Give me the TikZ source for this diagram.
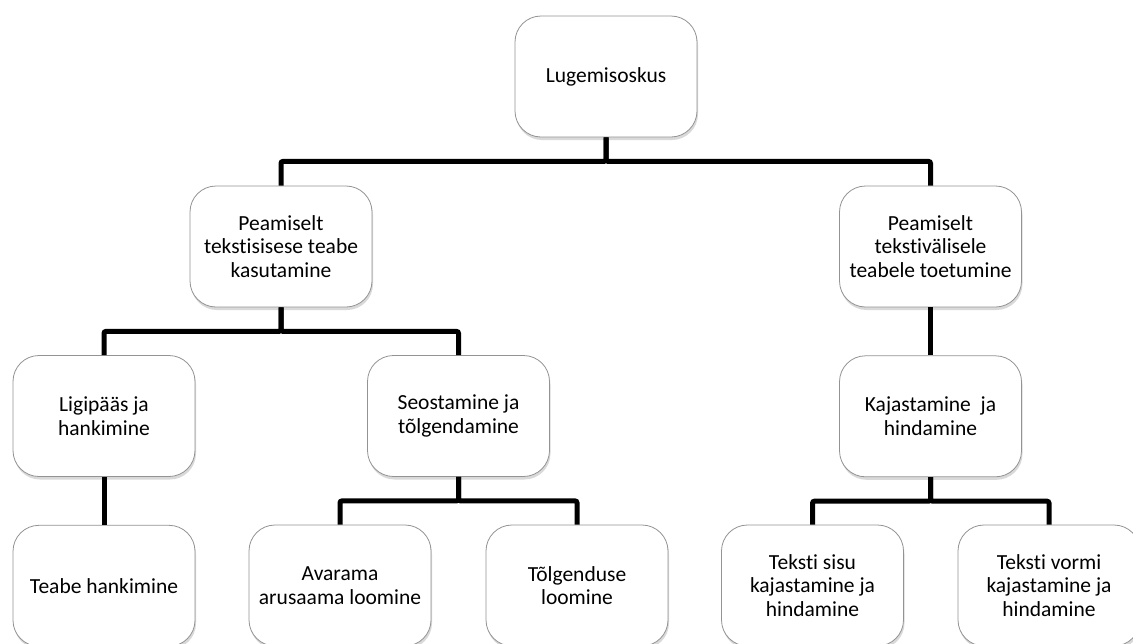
\documentclass[tikz,border=0pt]{standalone}
\usepackage{fontspec}
\setmainfont{Carlito}[Ligatures=NoCommon]
\usepackage{tikz}
\usetikzlibrary{positioning, shadows}

\tikzset{
  box/.style={rectangle, rounded corners=26pt, draw=gray!85, line width=0.8pt, fill=white,
    minimum width=182pt, minimum height=121pt, align=center,
    font=\fontsize{21.5}{23.5}\selectfont,
    drop shadow={shadow xshift=1pt, shadow yshift=-3pt, opacity=0.3, fill=gray}},
  link/.style={line width=5pt, rounded corners=2pt}
}

\begin{document}
\begin{tikzpicture}[x=1pt, y=1pt]

        \useasboundingbox (0,0) rectangle (1133,-643);

        \node[box] (root) at (606,-76.5) {Lugemisoskus};
        \node[box] (sisene) at (281,-246.5) {Peamiselt\\tekstisisese teabe\\kasutamine};
        \node[box] (valine) at (930.5,-246.5) {Peamiselt\\tekstivälisele\\teabele toetumine};

        \node[box] (ligi) at (104,-416) {Ligipääs ja\\hankimine};
        \node[box] (seos) at (458.5,-416) {Seostamine ja\\tõlgendamine};
        \node[box] (kaja) [below=48pt of valine] {Kajastamine~ ja\\hindamine};

        \node[box] (hank) [below=48pt of ligi] {Teabe hankimine};
        \node[box] (avar) at (340,-585.5) {Avarama\\arusaama loomine};
        \node[box] (tolg) at (577,-585.5) {Tõlgenduse\\loomine};
        \node[box] (sisu) at (812.5,-585.5) {Teksti sisu\\kajastamine ja\\hindamine};
        \node[box] (vorm) at (1049,-585.5) {Teksti vormi\\kajastamine ja\\hindamine};

        \draw[link] (root.south) -- ++(0,-24) -| (sisene.north);
        \draw[link] (root.south) -- ++(0,-24) -| (valine.north);
        \draw[link] (sisene.south) -- ++(0,-24) -| (ligi.north);
        \draw[link] (sisene.south) -- ++(0,-24) -| (seos.north);
        \draw[link] (valine) -- (kaja);
        \draw[link] (ligi) -- (hank);
        \draw[link] (seos.south) -- ++(0,-24) -| (avar.north);
        \draw[link] (seos.south) -- ++(0,-24) -| (tolg.north);
        \draw[link] (kaja.south) -- ++(0,-24) -| (sisu.north);
        \draw[link] (kaja.south) -- ++(0,-24) -| (vorm.north);

    \end{tikzpicture}
\end{document}
